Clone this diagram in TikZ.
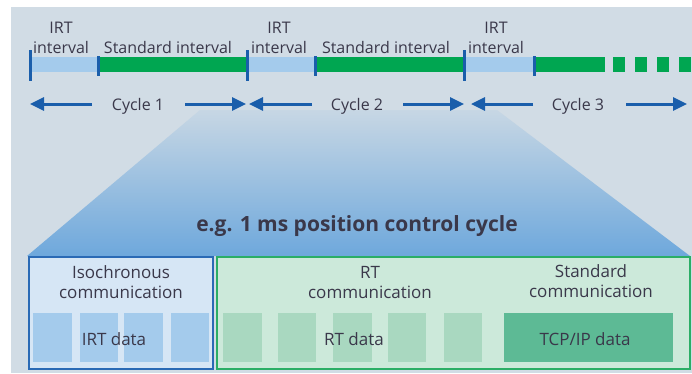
\documentclass[tikz,border=0pt]{standalone}
\usepackage{fontspec}
\setmainfont{Open Sans}
\definecolor{bgblue}{RGB}{209,220,229}
\definecolor{fanblue}{RGB}{110,168,220}
\definecolor{tickblue}{RGB}{26,94,171}
\definecolor{irtblue}{RGB}{164,203,236}
\definecolor{isofill}{RGB}{214,230,245}
\definecolor{isoline}{RGB}{42,106,181}
\definecolor{stdgreen}{RGB}{0,166,81}
\definecolor{rtfill}{RGB}{204,233,218}
\definecolor{rtline}{RGB}{43,174,102}
\definecolor{rtblock}{RGB}{169,216,192}
\definecolor{tcpgreen}{RGB}{93,186,149}
\definecolor{txtgray}{RGB}{58,56,74}
\usetikzlibrary{arrows.meta,positioning}

\begin{document}
\begin{tikzpicture}[x=1pt,y=-1pt,
      cyc/.style={-{Triangle[length=14pt,width=13pt]}, line width=3pt, tickblue},
      seg/.style={inner sep=0pt, minimum height=15pt},
      irtseg/.style={seg, fill=irtblue},
      stdseg/.style={seg, fill=stdgreen},
      longmark/.style={inner sep=0pt, fill=tickblue, minimum width=3pt, minimum height=31pt},
      shortmark/.style={inner sep=0pt, fill=tickblue, minimum width=3pt, minimum height=20pt},
      lab/.style={font=\fontsize{16}{20}\selectfont, text=txtgray, align=center, inner sep=0pt},
      blab/.style={lab, font=\fontsize{17}{20}\selectfont},
      panel/.style={draw, line width=2pt, inner sep=0pt, minimum height=112pt},
      block/.style={inner sep=0pt, minimum height=49pt}
    ]
    \useasboundingbox (0,0) rectangle (692,373);
    \fill[bgblue] (11,7) rectangle (692,373);
    % zoom fan
    \shade[top color=bgblue!90!fanblue, bottom color=fanblue]
      (200,110) -- (497,110) -- (690,256) -- (27,256) -- cycle;
    % time line
    \node[irtseg, minimum width=68pt] (irt1) at (64,64.5) {};
    \node[stdseg, minimum width=149pt] (std1) at (172.5,64.5) {};
    \node[irtseg, minimum width=68pt] (irt2) at (281,64.5) {};
    \node[stdseg, minimum width=149pt] (std2) at (389.5,64.5) {};
    \node[irtseg, minimum width=70pt] (irt3) at (499,64.5) {};
    \node[stdseg, minimum width=71pt] (std3) at (569.5,64.5) {};
    \foreach \x [count=\i] in {613,635,657,679}
      \node[stdseg, minimum width=11.5pt] (dash\i) at (\x+5.75,64.5) {};
    \node[longmark] (m1) at (30,65.5) {};
    \node[shortmark] (m2) at (98,66) {};
    \node[longmark] (m3) at (247,65.5) {};
    \node[shortmark] (m4) at (315,66) {};
    \node[longmark] (m5) at (464,65.5) {};
    \node[shortmark] (m6) at (534,66) {};
    % interval labels
    \node[lab] (li1) at (61,37.5) {IRT\\interval};
    \node[lab, anchor=base] (ls1) at (168,53) {Standard interval};
    \node[lab] (li2) at (279,37.5) {IRT\\interval};
    \node[lab, anchor=base] (ls2) at (386,53) {Standard interval};
    \node[lab] (li3) at (496,37.5) {IRT\\interval};
    % cycles
    \node[lab, anchor=base] (cyc1) at (138,110) {Cycle 1};
    \node[lab, anchor=base] (cyc2) at (357,110) {Cycle 2};
    \node[lab, anchor=base] (cyc3) at (578,110) {Cycle 3};
    \coordinate (c1a) at (92,104);  \coordinate (c1b) at (30,104);
    \coordinate (c1c) at (185,104); \coordinate (c1d) at (246,104);
    \coordinate (c2a) at (312,104); \coordinate (c2b) at (249,104);
    \coordinate (c2c) at (403,104); \coordinate (c2d) at (464,104);
    \coordinate (c3a) at (533,104); \coordinate (c3b) at (471,104);
    \coordinate (c3c) at (626,104); \coordinate (c3d) at (687,104);
    \draw[cyc] (c1a) -- (c1b);
    \draw[cyc] (c1c) -- (c1d);
    \draw[cyc] (c2a) -- (c2b);
    \draw[cyc] (c2c) -- (c2d);
    \draw[cyc] (c3a) -- (c3b);
    \draw[cyc] (c3c) -- (c3d);
    \node[lab, anchor=base, font=\bfseries\fontsize{21}{24}\selectfont] (title) at (357,231)
      {e.g. 1 ms position control cycle};
    % communication panels
    \node[panel, draw=isoline, fill=isofill, minimum width=184pt] (iso) at (121,313) {};
    \node[panel, draw=rtline, fill=rtfill, minimum width=473pt] (rt) at (453.5,313) {};
    \foreach \x [count=\i] in {52.5,99,143.5,190}
      \node[block, fill=irtblue, minimum width=38.5pt] (irtb\i) at (\x,337.5) {};
    \foreach \x [count=\i] in {242.5,297,352.5,407,463}
      \node[block, fill=rtblock, minimum width=38.5pt] (rtb\i) at (\x,337.5) {};
    \node[block, fill=tcpgreen, minimum width=169pt] (tcp) at (588.5,337.5) {};
    \node[blab] (isot) at (121,282.5) {Isochronous\\communication};
    \node[blab] (rtt) at (370,282.5) {RT\\communication};
    \node[blab] (stdt) at (591,281) {Standard\\communication};
    \node[blab, anchor=base] (irtd) at (114,345) {IRT data};
    \node[blab, anchor=base] (rtd) at (354,345) {RT data};
    \node[blab, anchor=base] (tcpd) at (585,345) {TCP/IP data};
  \end{tikzpicture}
\end{document}
